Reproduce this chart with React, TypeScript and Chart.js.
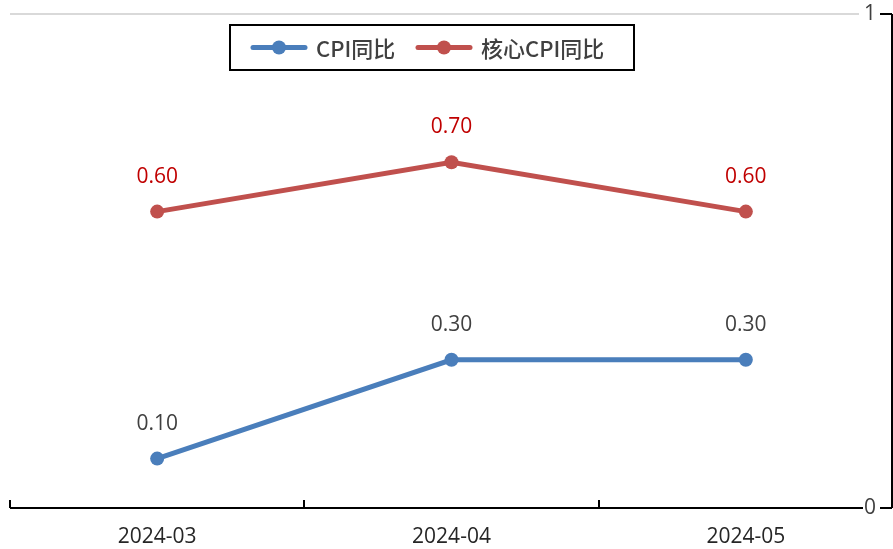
import React, { useEffect, useRef } from "react";
import { Chart, registerables } from "chart.js";

Chart.register(...registerables);

const categories = ["2024-03", "2024-04", "2024-05"];
const cpiYoY = [0.1, 0.3, 0.3];
const coreCpiYoY = [0.6, 0.7, 0.6];
const seriesNames = ["CPI同比", "核心CPI同比"];
const yTicks = [0, 1];

const BLUE = "#4a7ebb";
const RED = "#c0504d";
const TEXT = "#404040";
const NUM_FONT = '"Open Sans", "Noto Sans", sans-serif';
const CJK_FONT = '"Noto Sans CJK SC", "Noto Sans", sans-serif';

const decorPlugin = {
  id: "decor",
  beforeDatasetsDraw(chart: any) {
    const ctx = chart.ctx;
    const y = chart.scales.y;
    const x = chart.scales.x;
    const area = chart.chartArea;
    ctx.save();
    ctx.strokeStyle = "#d9d9d9";
    ctx.lineWidth = 2;
    ctx.beginPath();
    const yTop = y.getPixelForValue(yTicks[1]);
    ctx.moveTo(area.left, yTop);
    ctx.lineTo(area.right - 34, yTop);
    ctx.stroke();

    ctx.strokeStyle = "#000";
    ctx.lineWidth = 2;
    const yBase = y.getPixelForValue(yTicks[0]);
    ctx.beginPath();
    ctx.moveTo(area.left, yBase);
    ctx.lineTo(area.right - 30, yBase);
    ctx.stroke();
    const step = x.getPixelForValue(1) - x.getPixelForValue(0);
    for (let i = 0; i <= categories.length; i++) {
      const px = Math.round(x.getPixelForValue(0) - step / 2 + i * step);
      ctx.beginPath();
      ctx.moveTo(Math.min(px, area.right - 1), yBase);
      ctx.lineTo(Math.min(px, area.right - 1), yBase - 8);
      ctx.stroke();
    }
    ctx.beginPath();
    ctx.moveTo(area.right - 1, yTop);
    ctx.lineTo(area.right - 1, yBase);
    ctx.stroke();
    ctx.font = `21px ${NUM_FONT}`;
    ctx.fillStyle = TEXT;
    ctx.textAlign = "right";
    ctx.textBaseline = "middle";
    for (const v of yTicks) {
      const py = y.getPixelForValue(v);
      ctx.beginPath();
      ctx.moveTo(area.right - 13, py);
      ctx.lineTo(area.right - 1, py);
      ctx.stroke();
      ctx.fillText(String(v), area.right - 17, py);
    }
    ctx.restore();
  },
  afterDatasetsDraw(chart: any) {
    const ctx = chart.ctx;
    ctx.save();
    ctx.font = `21px ${NUM_FONT}`;
    ctx.textAlign = "center";
    ctx.textBaseline = "middle";
    chart.data.datasets.forEach((ds: any, di: number) => {
      const meta = chart.getDatasetMeta(di);
      ctx.fillStyle = di === 1 ? "#c00000" : TEXT;
      meta.data.forEach((pt: any, i: number) => {
        ctx.fillText(Number(ds.data[i]).toFixed(2), pt.x, pt.y - 35);
      });
    });

    const bx = 230, by = 25, bw = 404, bh = 45;
    ctx.strokeStyle = "#000";
    ctx.lineWidth = 2;
    ctx.fillStyle = "#fff";
    ctx.fillRect(bx, by, bw, bh);
    ctx.strokeRect(bx, by, bw, bh);
    const items = [
      { x: 253, color: BLUE, text: seriesNames[0] },
      { x: 418, color: RED, text: seriesNames[1] },
    ];
    const cy = by + bh / 2;
    ctx.font = `500 22px ${CJK_FONT}`;
    ctx.textAlign = "left";
    for (const it of items) {
      ctx.strokeStyle = it.color;
      ctx.lineWidth = 5;
      ctx.lineCap = "round";
      ctx.beginPath();
      ctx.moveTo(it.x, cy);
      ctx.lineTo(it.x + 52, cy);
      ctx.stroke();
      ctx.fillStyle = it.color;
      ctx.beginPath();
      ctx.arc(it.x + 26, cy, 7, 0, Math.PI * 2);
      ctx.fill();
      ctx.fillStyle = TEXT;
      ctx.fillText(it.text, it.x + 63, cy + 1);
    }
    ctx.restore();
  },
};

export default function App() {
  const ref = useRef<HTMLCanvasElement>(null);
  useEffect(() => {
    if (!ref.current) return;
    const chart = new Chart(ref.current, {
      type: "line",
      data: {
        labels: categories,
        datasets: [
          {
            label: seriesNames[0],
            data: cpiYoY,
            borderColor: BLUE,
            backgroundColor: BLUE,
            borderWidth: 5,
            pointRadius: 7,
            pointHoverRadius: 7,
            pointBackgroundColor: BLUE,
            pointBorderWidth: 0,
          },
          {
            label: seriesNames[1],
            data: coreCpiYoY,
            borderColor: RED,
            backgroundColor: RED,
            borderWidth: 5,
            pointRadius: 7,
            pointHoverRadius: 7,
            pointBackgroundColor: RED,
            pointBorderWidth: 0,
          },
        ],
      },
      options: {
        animation: false,
        responsive: false,
        layout: { autoPadding: false, padding: { left: 10, top: 14, right: 0, bottom: 0 } },
        plugins: { legend: { display: false }, tooltip: { enabled: false } },
        scales: {
          x: {
            offset: true,
            grid: { display: false, drawTicks: false },
            border: { display: false },
            ticks: {
              color: "#262626",
              font: { family: NUM_FONT, size: 21 },
              padding: 16,
            },
            afterFit: (s: any) => {
              s.height = 41;
              s.paddingLeft = 0;
              s.paddingRight = 0;
            },
          },
          y: {
            display: false,
            position: "right",
            min: 0,
            max: 1,
          },
        },
      },
      plugins: [decorPlugin],
    });
    return () => chart.destroy();
  }, []);
  return (
    <div style={{ position: "fixed", left: 0, top: 0, width: 893, height: 549, background: "#fff" }}>
      <canvas ref={ref} width={893} height={549} style={{ display: "block" }} />
    </div>
  );
}
